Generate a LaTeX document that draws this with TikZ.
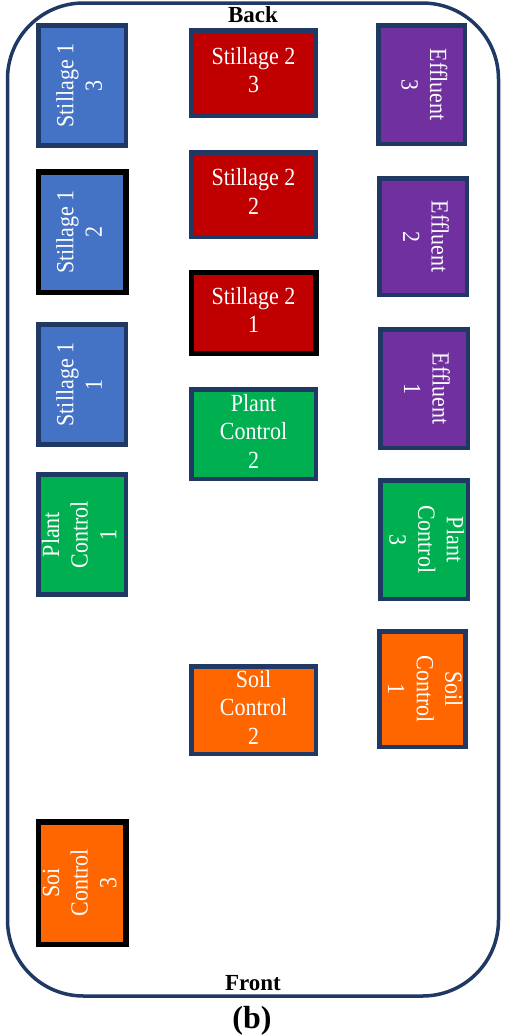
\documentclass[tikz,border=0pt]{standalone}
\usepackage{fontspec}
\setmainfont{Liberation Serif}
\definecolor{navy}{HTML}{1F3864}
\definecolor{stillA}{HTML}{4472C4}
\definecolor{stillB}{HTML}{C00000}
\definecolor{effl}{HTML}{7030A0}
\definecolor{plant}{HTML}{00B050}
\definecolor{soil}{HTML}{FF6600}
% stacked, centred label (slightly tall glyphs), turned by the given angle
\newcommand{\boxlabel}[2]{\rotatebox{#1}{\scalebox{1}[1.12]{\begin{tabular}{@{}c@{}}#2\end{tabular}}}}
\tikzset{
  plot/.style={draw=navy, line width=4.5pt, inner sep=0pt, text=white,
    font=\fontsize{22}{25.5}\selectfont},
  heavy/.style={draw=black, line width=5.5pt},
  sidebox/.style={plot, minimum width=87.5pt, minimum height=120pt},
  midbox/.style={plot, minimum width=124.5pt},
  edge/.style={font=\bfseries\fontsize{23}{26}\selectfont, inner sep=0pt}
}
\begin{document}
\begin{tikzpicture}[x=1pt,y=-1pt]
\useasboundingbox (0,0) rectangle (506,1036);
% greenhouse bench outline
\draw[navy, line width=3.5pt, rounded corners=76pt] (7.5,3) rectangle (498.5,996);
\node[edge, anchor=base] (back) at (253,23) {Back};
\node[edge, anchor=base] (front) at (253,990) {Front};
\node[font=\bfseries\fontsize{32}{34}\selectfont, inner sep=0pt] (cap) at (252,1021) {(b)};

% left column
\node[sidebox, fill=stillA] (s13) at (82,85.5) {\boxlabel{90}{Stillage 1\\3}};
\node[sidebox, heavy, fill=stillA, minimum height=120.5pt] (s12) at (82,232) {\boxlabel{90}{Stillage 1\\2}};
\node[sidebox, fill=stillA] (s11) at (82,384.5) {\boxlabel{90}{Stillage 1\\1}};
\node[sidebox, fill=plant] (pc1) at (82,534.5) {\boxlabel{90}{Plant\\Control\\1}};
\node[sidebox, heavy, fill=soil, minimum height=122.5pt] (sc3) at (82,883) {\boxlabel{90}{Soi\\Control\\3}};

% middle column
\node[midbox, fill=stillB, minimum height=85.5pt] (s23) at (253.5,73) {\boxlabel{0}{Stillage 2\\3}};
\node[midbox, fill=stillB, minimum height=84.5pt] (s22) at (253.5,194.5) {\boxlabel{0}{Stillage 2\\2}};
\node[midbox, heavy, fill=stillB, minimum height=81pt] (s21) at (253.5,313) {\boxlabel{0}{Stillage 2\\1}};
\node[midbox, fill=plant, minimum height=89.5pt] (pc2) at (253.5,434) {\boxlabel{0}{Plant\\Control\\2}};
\node[midbox, fill=soil, minimum height=87.5pt] (sc2) at (253.5,710) {\boxlabel{0}{Soil\\Control\\2}};

% right column
\node[sidebox, fill=effl, minimum width=86.5pt, minimum height=118.5pt] (e3) at (421.5,84.5) {\boxlabel{-90}{Effluent\\3}};
\node[sidebox, fill=effl, minimum height=116.5pt] (e2) at (423,236.5) {\boxlabel{-90}{Effluent\\2}};
\node[sidebox, fill=effl, minimum height=118.5pt] (e1) at (424,388.5) {\boxlabel{-90}{Effluent\\1}};
\node[sidebox, fill=plant, minimum height=118.5pt] (pc3) at (424,539.5) {\boxlabel{-90}{Plant\\Control\\3}};
\node[sidebox, fill=soil, minimum width=84.5pt, minimum height=115.5pt] (sc1) at (422.5,689) {\boxlabel{-90}{Soil\\Control\\1}};
\end{tikzpicture}
\end{document}
